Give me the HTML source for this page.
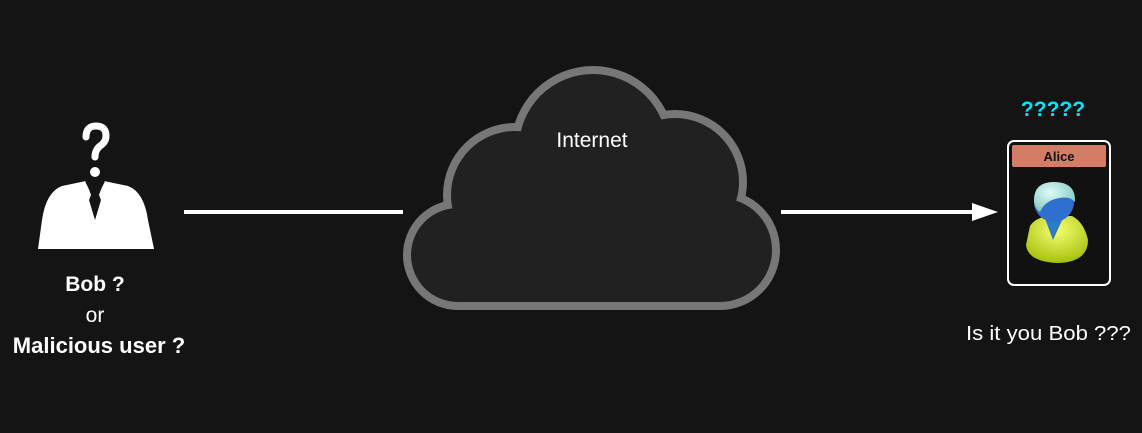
<!DOCTYPE html>
<html><head><style>
html,body{margin:0;padding:0;background:#141414;}
body{width:1142px;height:433px;overflow:hidden;position:relative;font-family:"Liberation Sans",sans-serif;}
</style></head><body>
<svg width="1142" height="433" style="position:absolute;left:0;top:0">
<defs>
<radialGradient id="hd" cx="0.4" cy="0.35" r="0.7"><stop offset="0" stop-color="#e0fbf6"/><stop offset="1" stop-color="#7ec8c0"/></radialGradient>
<radialGradient id="bd" cx="0.5" cy="0.3" r="0.8"><stop offset="0" stop-color="#f4ff70"/><stop offset="1" stop-color="#9cb800"/></radialGradient>
</defs>
<g fill="#777">
<circle cx="458" cy="255" r="55"/><circle cx="515" cy="195" r="72"/><circle cx="593" cy="148" r="82"/><circle cx="675" cy="182" r="72"/><circle cx="720" cy="250" r="60"/><rect x="458" y="200" width="262" height="110"/>
</g>
<g fill="#212121">
<circle cx="458" cy="255" r="47"/><circle cx="515" cy="195" r="64"/><circle cx="593" cy="148" r="74"/><circle cx="675" cy="182" r="64"/><circle cx="720" cy="250" r="52"/><rect x="458" y="200" width="262" height="102"/>
</g>
<text x="592" y="147" fill="#fff" font-size="21" text-anchor="middle">Internet</text>
<rect x="184" y="210" width="219" height="4" fill="#fff"/>
<rect x="781" y="210" width="194" height="4" fill="#fff"/>
<polygon points="972,203 998,212 972,221" fill="#fff"/>
<g fill="#fff">
<path d="M86,137 Q86,126 96,126 Q106,126 106,136 Q106,142 100,146 Q95,150 95,157" stroke="#fff" stroke-width="7" fill="none" stroke-linecap="round"/>
<circle cx="95" cy="172" r="5"/>
<path d="M62,186 L86,181 L91,195 L89,200 L95,220 L101,200 L99,195 L104,181 L128,186 Q144,192 148,220 L154,249 L38,249 L42,220 Q46,192 62,186 Z"/>
</g>
<path d="M86,181 L94,197 M104,181 L96,197" stroke="#141414" stroke-width="2" fill="none"/>
<text x="95" y="291" fill="#fff" font-size="21" font-weight="bold" text-anchor="middle">Bob ?</text>
<text x="95" y="322" fill="#fff" font-size="21" text-anchor="middle">or</text>
<text x="99" y="353" fill="#fff" font-size="22" font-weight="bold" text-anchor="middle">Malicious user ?</text>
<text x="1053" y="116" fill="#00e5ff" font-size="21" font-weight="bold" text-anchor="middle">?????</text>
<rect x="1008" y="141" width="102" height="144" rx="6" fill="#111" stroke="#fff" stroke-width="2"/>
<rect x="1012" y="145" width="94" height="22" rx="2" fill="#d47c66"/>
<text x="1059" y="161" fill="#111" font-size="13" font-weight="bold" text-anchor="middle">Alice</text>
<path d="M1030,226 Q1035,218 1048,216 L1072,216 Q1084,222 1088,240 Q1088,262 1058,263 Q1028,262 1026,245 Z" fill="url(#bd)"/>
<path d="M1044,216 L1053,240 L1064,216 Z" fill="#2a7cc8"/>
<circle cx="1054" cy="202" r="20" fill="#2e6fd0"/>
<path d="M1034,200 Q1034,182 1054,182 Q1076,182 1075,202 Q1070,196 1060,198 Q1045,200 1040,212 Q1034,208 1034,200 Z" fill="url(#hd)"/>
<text x="966" y="340" fill="#fff" font-size="20" textLength="165" lengthAdjust="spacingAndGlyphs">Is it you Bob ???</text>
</svg>
</body></html>
